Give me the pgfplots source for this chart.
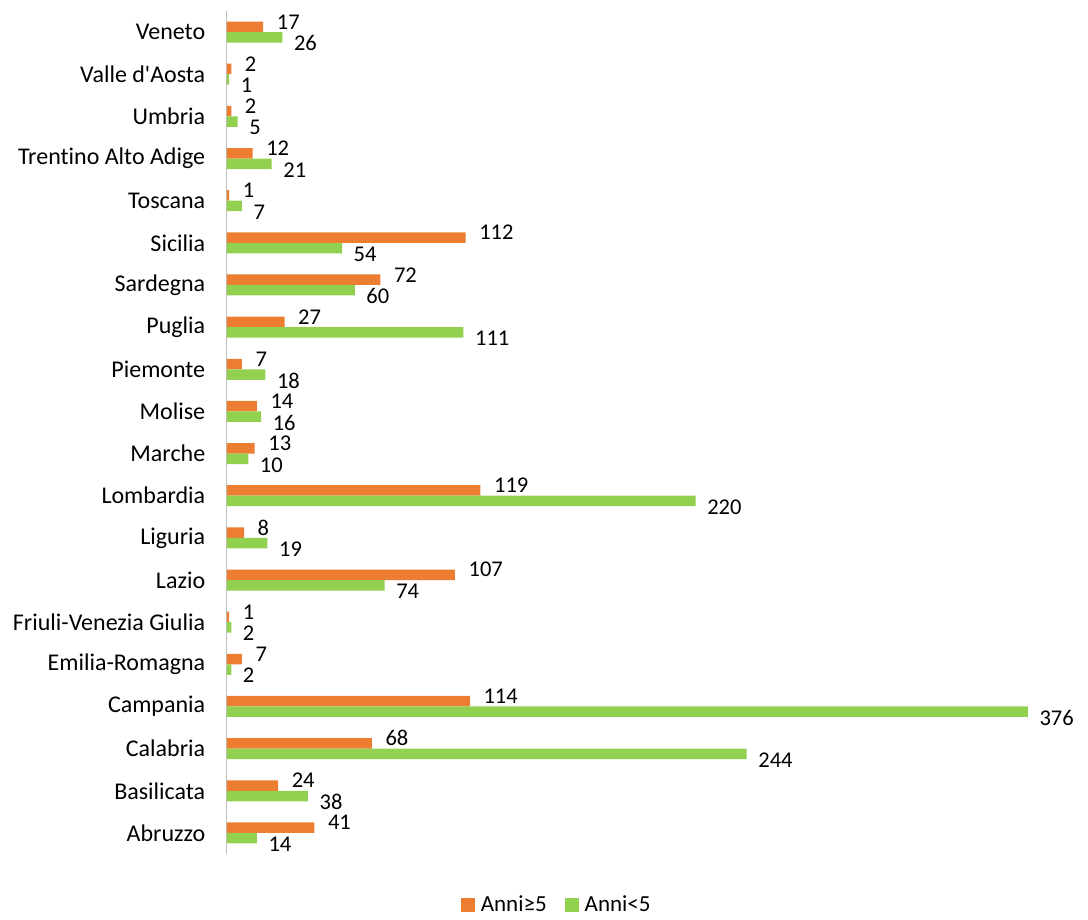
\documentclass[border=0pt]{standalone}
\usepackage{fontspec}
\setmainfont{Carlito}[Ligatures={NoCommon}]
\usepackage{pgfplots}
\pgfplotsset{compat=1.18}
\definecolor{cOr}{HTML}{ED7D31}
\definecolor{cGr}{HTML}{92D050}
\begin{document}
\begin{tikzpicture}
\useasboundingbox (-227pt,-66pt) rectangle (861pt,854pt);
\begin{axis}[
  scale only axis,
  width=852pt, height=843pt,
  xbar,
  xmin=0, xmax=400,
  ymin=-0.5, ymax=19.5,
  axis x line=none,
  axis y line*=left,
  y axis line style={draw=gray!50, line width=1pt, -},
  ytick={0,...,19},
  ytick style={draw=none},
  yticklabels={Abruzzo,Basilicata,Calabria,Campania,Emilia-Romagna,Friuli-Venezia Giulia,Lazio,Liguria,Lombardia,Marche,Molise,Piemonte,Puglia,Sardegna,Sicilia,Toscana,Trentino Alto Adige,Umbria,Valle d\textquotesingle Aosta,Veneto},
  yticklabel style={font=\fontsize{24}{27}\selectfont, xshift=-14pt},
  /pgf/number format/assume math mode=true,
  bar width=10.5pt,
  nodes near coords,
  nodes near coords style={font=\fontsize{22.5}{26}\selectfont, anchor=west, inner sep=0.5pt},
  legend style={at={(0.387,-0.06)}, anchor=center, draw=none, legend columns=2,
    font=\fontsize{23}{26}\selectfont,
    /tikz/every odd column/.append style={column sep=4pt},
    /tikz/every even column/.append style={column sep=16pt}},
  legend image code/.code={\fill[#1] (0pt,-7pt) rectangle (14pt,7pt);},
  clip=false,
]
\addplot[fill=cOr, draw=none, bar shift=5.25pt, nodes near coords style={xshift=13pt, yshift=5pt}] coordinates {
(41,0) (24,1) (68,2) (114,3) (7,4) (1,5) (107,6) (8,7) (119,8) (13,9)
(14,10) (7,11) (27,12) (72,13) (112,14) (1,15) (12,16) (2,17) (2,18) (17,19)};
\addplot[fill=cGr, draw=none, bar shift=-5.25pt, nodes near coords style={xshift=11pt, yshift=-6pt}] coordinates {
(14,0) (38,1) (244,2) (376,3) (2,4) (2,5) (74,6) (19,7) (220,8) (10,9)
(16,10) (18,11) (111,12) (60,13) (54,14) (7,15) (21,16) (5,17) (1,18) (26,19)};
\legend{Anni≥5, Anni<5}
\end{axis}
\end{tikzpicture}
\end{document}
